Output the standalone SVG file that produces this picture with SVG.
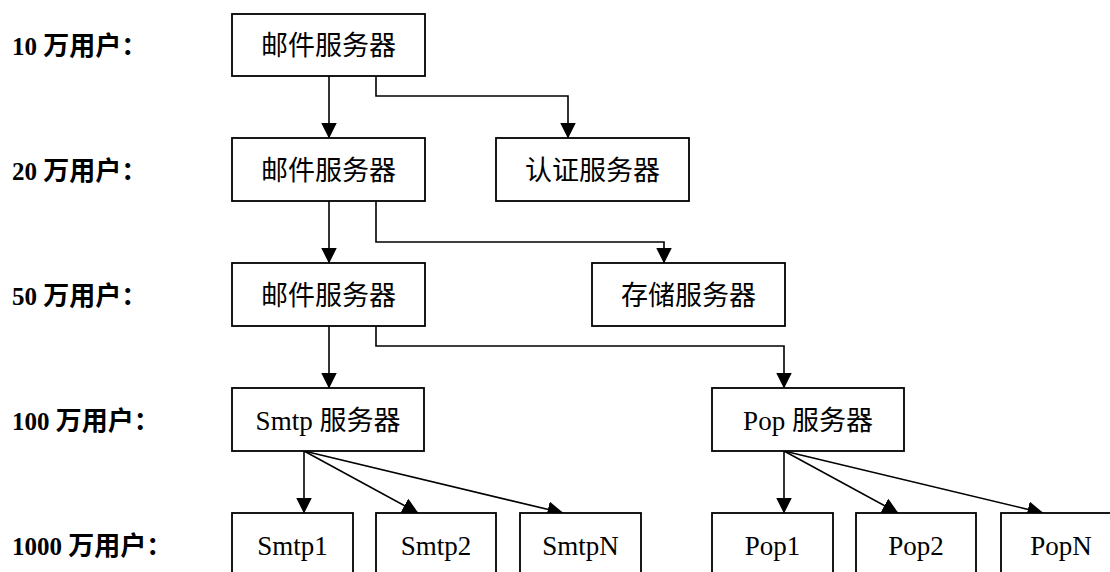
<svg xmlns="http://www.w3.org/2000/svg" width="1110" height="572" viewBox="0 0 1110 572">
<style>
  .box rect { fill: #fff; stroke: #000; stroke-width: 1.8; }
  .box text { font-family: "Liberation Serif", "Noto Sans CJK SC", serif; font-size: 27px; text-anchor: middle; fill: #000; }
  .lbl { font-family: "Liberation Serif", "Noto Sans CJK SC", serif; font-size: 25px; font-weight: bold; fill: #000; }
  .lbl tspan { font-size: 26px; }
  .conn path { fill: none; stroke: #000; stroke-width: 1.6; marker-end: url(#arr); }
</style>
<defs>
  <marker id="arr" markerUnits="userSpaceOnUse" markerWidth="16" markerHeight="16" refX="15.5" refY="8" orient="auto" viewBox="0 0 16 16">
    <path d="M0,0 L16,8 L0,16 Z" fill="#000"/>
  </marker>
</defs>
<rect width="1110" height="572" fill="#fff"/>
<g id="labels">
  <text class="lbl" x="12" y="55">10 <tspan>万用户：</tspan></text>
  <text class="lbl" x="12" y="179.5">20 <tspan>万用户：</tspan></text>
  <text class="lbl" x="12" y="304.5">50 <tspan>万用户：</tspan></text>
  <text class="lbl" x="12" y="429.5">100 <tspan>万用户：</tspan></text>
  <text class="lbl" x="12" y="554.5">1000 <tspan>万用户：</tspan></text>
</g>
<g class="conn" id="connectors">
  <path d="M329,76 V138"/>
  <path d="M376,76 V96 H568 V138"/>
  <path d="M329,201 V263"/>
  <path d="M376,201 V242 H664 V263"/>
  <path d="M329,326 V388"/>
  <path d="M376,326 V346 H784 V388"/>
  <path d="M304,451 V513"/>
  <path d="M304,451 L418,513"/>
  <path d="M304,451 L563,513"/>
  <path d="M784,451 V513"/>
  <path d="M784,451 L898,513"/>
  <path d="M784,451 L1043,513"/>
</g>
<g class="box" id="mail1"><rect x="232" y="14" width="193" height="62"/><text x="328.5" y="55">邮件服务器</text></g>
<g class="box" id="mail2"><rect x="232" y="138" width="193" height="63"/><text x="328.5" y="179.5">邮件服务器</text></g>
<g class="box" id="auth"><rect x="496" y="138" width="193" height="63"/><text x="592.5" y="179.5">认证服务器</text></g>
<g class="box" id="mail3"><rect x="232" y="263" width="193" height="63"/><text x="328.5" y="304.5">邮件服务器</text></g>
<g class="box" id="storage"><rect x="592" y="263" width="193" height="63"/><text x="688.5" y="304.5">存储服务器</text></g>
<g class="box" id="smtp"><rect x="232" y="388" width="192" height="63"/><text x="328" y="429.5">Smtp 服务器</text></g>
<g class="box" id="pop"><rect x="712" y="388" width="192" height="63"/><text x="808" y="429.5">Pop 服务器</text></g>
<g class="box" id="smtp1"><rect x="232" y="513" width="121" height="63"/><text x="292.5" y="554.5">Smtp1</text></g>
<g class="box" id="smtp2"><rect x="376" y="513" width="120" height="63"/><text x="436" y="554.5">Smtp2</text></g>
<g class="box" id="smtpN"><rect x="520" y="513" width="121" height="63"/><text x="580.5" y="554.5">SmtpN</text></g>
<g class="box" id="pop1"><rect x="712" y="513" width="121" height="63"/><text x="772.5" y="554.5">Pop1</text></g>
<g class="box" id="pop2"><rect x="856" y="513" width="120" height="63"/><text x="916" y="554.5">Pop2</text></g>
<g class="box" id="popN"><rect x="1001" y="513" width="121" height="63"/><text x="1061" y="554.5">PopN</text></g>
</svg>
